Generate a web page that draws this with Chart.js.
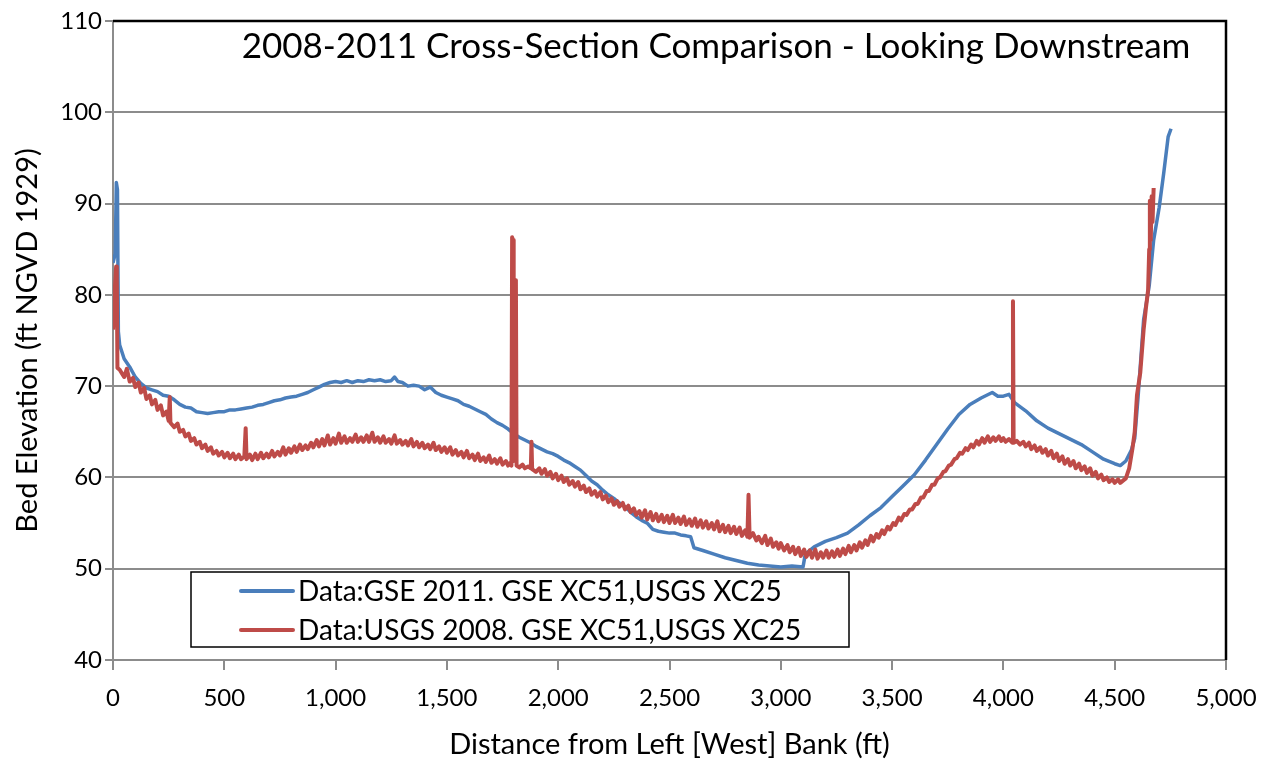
<!DOCTYPE html>
<html>
<head>
<meta charset="utf-8">
<script src="https://cdn.jsdelivr.net/npm/chart.js"></script>
<style>
  body { margin: 0; background: #fff; }
  canvas { display: block; }
</style>
</head>
<body>
<canvas id="xsChart" width="1273" height="765"></canvas>
<script>
// 2008-2011 cross-section comparison, bed elevation vs distance from left bank

const chartTitle = '2008-2011 Cross-Section Comparison - Looking Downstream';
const xTitle = 'Distance from Left [West] Bank (ft)';
const yTitle = 'Bed Elevation (ft NGVD 1929)';
const seriesLabels = ['Data:GSE 2011. GSE XC51,USGS XC25', 'Data:USGS 2008. GSE XC51,USGS XC25'];
const xTicks = [0, 500, 1000, 1500, 2000, 2500, 3000, 3500, 4000, 4500, 5000];
const yTicks = [40, 50, 60, 70, 80, 90, 100, 110];

// [distance ft, elevation ft]
const gse2011 = [
  [0, 83.5], [10, 84.5], [15, 92.3], [20, 91.5], [24, 76.0], [30, 74.5], [50, 73.0], [75, 72.1],
  [100, 71.0], [125, 70.3], [150, 69.8], [175, 69.6], [200, 69.4], [225, 69.0], [250, 68.9], [275, 68.5],
  [300, 68.0], [325, 67.7], [350, 67.6], [375, 67.2], [400, 67.1], [425, 67.0], [450, 67.1], [475, 67.2],
  [500, 67.2], [525, 67.4], [550, 67.4], [575, 67.5], [600, 67.6], [625, 67.7], [650, 67.9], [675, 68.0],
  [700, 68.2], [725, 68.4], [750, 68.5], [775, 68.7], [800, 68.8], [825, 68.9], [850, 69.1], [875, 69.3],
  [900, 69.6], [925, 69.9], [950, 70.2], [975, 70.4], [1000, 70.5], [1025, 70.4], [1050, 70.6], [1075, 70.4],
  [1100, 70.6], [1125, 70.5], [1150, 70.7], [1175, 70.6], [1200, 70.7], [1225, 70.5], [1250, 70.6], [1265, 71.0],
  [1280, 70.5], [1300, 70.4], [1325, 70.0], [1350, 70.1], [1375, 70.0], [1400, 69.6], [1425, 69.9], [1450, 69.3],
  [1475, 69.0], [1500, 68.8], [1525, 68.6], [1550, 68.4], [1575, 68.0], [1600, 67.8], [1625, 67.5], [1650, 67.2],
  [1675, 66.9], [1700, 66.4], [1725, 66.0], [1750, 65.7], [1775, 65.3], [1800, 64.8], [1825, 64.4], [1850, 64.1],
  [1875, 63.8], [1900, 63.4], [1925, 63.1], [1950, 62.8], [1975, 62.6], [2000, 62.3], [2025, 61.9], [2050, 61.6],
  [2075, 61.2], [2100, 60.8], [2125, 60.2], [2150, 59.6], [2175, 59.2], [2200, 58.6], [2225, 58.1], [2250, 57.7],
  [2275, 57.2], [2300, 56.8], [2325, 56.2], [2350, 55.7], [2375, 55.3], [2400, 55.0], [2425, 54.3], [2450, 54.1],
  [2475, 54.0], [2500, 53.9], [2525, 53.9], [2550, 53.7], [2575, 53.6], [2595, 53.5], [2610, 52.3], [2650, 52.0],
  [2700, 51.6], [2750, 51.2], [2800, 50.9], [2850, 50.6], [2900, 50.4], [2950, 50.3], [3000, 50.2], [3050, 50.3],
  [3100, 50.2], [3110, 51.6], [3150, 52.4], [3200, 53.0], [3250, 53.4], [3300, 53.9], [3350, 54.8], [3400, 55.8],
  [3450, 56.7], [3500, 57.9], [3550, 59.1], [3600, 60.3], [3650, 61.9], [3700, 63.6], [3750, 65.3], [3800, 66.9],
  [3850, 68.0], [3900, 68.7], [3925, 69.0], [3950, 69.3], [3975, 68.9], [4000, 68.9], [4025, 69.1], [4050, 68.2],
  [4100, 67.3], [4150, 66.2], [4200, 65.4], [4250, 64.8], [4300, 64.2], [4350, 63.6], [4400, 62.8], [4450, 62.0],
  [4500, 61.5], [4525, 61.3], [4550, 61.8], [4575, 63.0], [4590, 64.3], [4605, 68.8], [4630, 77.3], [4655, 81.0],
  [4675, 86.0], [4700, 89.6], [4720, 93.3], [4740, 97.3], [4753, 98.2]
];

const usgs2008 = [
  [0, 76.2], [8, 80.5], [14, 83.1], [17, 82.0], [20, 72.0], [30, 71.8], [50, 71.0], [62, 71.9],
  [75, 70.5], [90, 70.9], [100, 69.9], [115, 70.4], [125, 69.3], [140, 69.8], [150, 68.6], [165, 69.0],
  [175, 68.0], [190, 68.5], [200, 67.4], [215, 67.9], [225, 66.8], [240, 67.2], [250, 66.2], [255, 68.8],
  [258, 66.0], [275, 65.5], [290, 65.9], [300, 65.0], [315, 65.2], [325, 64.5], [340, 64.8], [350, 64.0],
  [365, 64.3], [375, 63.6], [390, 63.9], [400, 63.2], [415, 63.6], [425, 62.9], [440, 63.3], [450, 62.6],
  [465, 62.9], [475, 62.4], [490, 62.8], [500, 62.2], [515, 62.7], [525, 62.1], [540, 62.6], [550, 62.0],
  [565, 62.5], [575, 62.0], [590, 62.3], [596, 65.4], [600, 62.0], [615, 62.5], [625, 61.9], [640, 62.6],
  [650, 62.0], [665, 62.7], [675, 62.1], [690, 62.6], [700, 62.2], [715, 62.9], [725, 62.3], [740, 62.8],
  [750, 62.4], [765, 63.3], [775, 62.5], [790, 63.2], [800, 62.7], [815, 63.4], [825, 62.8], [840, 63.6],
  [850, 63.0], [865, 63.5], [875, 63.1], [890, 63.8], [900, 63.3], [915, 64.1], [925, 63.4], [940, 64.2],
  [950, 63.5], [965, 64.6], [975, 63.6], [990, 64.3], [1000, 63.7], [1015, 64.8], [1025, 63.8], [1040, 64.5],
  [1050, 63.8], [1065, 64.3], [1075, 63.9], [1090, 64.7], [1100, 63.9], [1115, 64.4], [1125, 63.9], [1140, 64.6],
  [1150, 63.9], [1165, 64.9], [1175, 63.9], [1190, 64.4], [1200, 63.8], [1215, 64.5], [1225, 63.8], [1240, 64.2],
  [1250, 63.7], [1265, 64.6], [1275, 63.7], [1290, 64.1], [1300, 63.6], [1315, 64.0], [1325, 63.5], [1340, 64.2],
  [1350, 63.4], [1365, 63.9], [1375, 63.3], [1390, 63.8], [1400, 63.2], [1415, 63.6], [1425, 63.1], [1440, 63.8],
  [1450, 63.0], [1465, 63.4], [1475, 62.8], [1490, 63.3], [1500, 62.7], [1515, 63.3], [1525, 62.5], [1540, 63.0],
  [1550, 62.4], [1565, 62.8], [1575, 62.2], [1590, 62.9], [1600, 62.1], [1615, 62.5], [1625, 61.9], [1640, 62.6],
  [1650, 61.8], [1665, 62.2], [1675, 61.7], [1690, 62.4], [1700, 61.6], [1715, 62.0], [1725, 61.5], [1740, 62.1],
  [1750, 61.4], [1765, 61.8], [1775, 61.3], [1785, 61.6], [1790, 61.3], [1793, 86.3], [1797, 86.0], [1800, 61.8],
  [1806, 81.6], [1810, 81.4], [1813, 61.3], [1825, 61.1], [1840, 61.4], [1850, 61.0], [1865, 61.2], [1877, 61.0],
  [1880, 63.9], [1883, 60.9], [1900, 60.6], [1915, 61.0], [1925, 60.4], [1940, 60.9], [1950, 60.2], [1965, 60.6],
  [1975, 59.9], [1990, 60.4], [2000, 59.7], [2015, 60.2], [2025, 59.5], [2040, 59.9], [2050, 59.2], [2065, 59.6],
  [2075, 59.0], [2090, 59.5], [2100, 58.7], [2115, 59.1], [2125, 58.4], [2140, 58.8], [2150, 58.1], [2165, 58.5],
  [2175, 57.9], [2190, 58.4], [2200, 57.6], [2215, 58.0], [2225, 57.3], [2240, 57.7], [2250, 57.0], [2265, 57.4],
  [2275, 56.8], [2290, 57.2], [2300, 56.5], [2315, 56.9], [2325, 56.2], [2340, 56.6], [2350, 55.9], [2365, 56.3],
  [2375, 55.6], [2390, 56.4], [2400, 55.4], [2415, 56.2], [2425, 55.3], [2440, 56.0], [2450, 55.2], [2465, 55.9],
  [2475, 55.1], [2490, 55.8], [2500, 55.0], [2515, 55.9], [2525, 55.0], [2540, 55.6], [2550, 54.9], [2565, 55.7],
  [2575, 54.8], [2590, 55.4], [2600, 54.7], [2615, 55.5], [2625, 54.6], [2640, 55.3], [2650, 54.5], [2665, 55.2],
  [2675, 54.4], [2690, 55.0], [2700, 54.3], [2715, 55.2], [2725, 54.1], [2740, 54.8], [2750, 54.0], [2765, 54.7],
  [2775, 53.9], [2790, 54.6], [2800, 53.8], [2815, 54.5], [2825, 53.6], [2840, 54.2], [2850, 53.5], [2855, 58.1],
  [2860, 53.4], [2875, 53.9], [2890, 53.1], [2900, 53.5], [2915, 52.8], [2930, 53.6], [2940, 52.6], [2955, 53.3],
  [2965, 52.4], [2980, 52.9], [2990, 52.2], [3000, 52.8], [3015, 52.0], [3030, 52.6], [3040, 51.8], [3055, 52.4],
  [3065, 51.6], [3080, 52.3], [3090, 51.4], [3105, 52.1], [3115, 51.3], [3130, 52.0], [3140, 51.2], [3155, 52.1],
  [3165, 51.1], [3180, 51.8], [3190, 51.2], [3205, 52.0], [3215, 51.2], [3230, 51.9], [3240, 51.3], [3255, 52.1],
  [3265, 51.4], [3280, 52.2], [3290, 51.6], [3305, 52.5], [3315, 51.8], [3330, 52.6], [3340, 52.0], [3355, 52.9],
  [3365, 52.3], [3380, 53.1], [3390, 52.6], [3405, 53.6], [3415, 53.0], [3430, 53.8], [3440, 53.4], [3455, 54.2],
  [3465, 53.8], [3480, 54.6], [3490, 54.3], [3505, 55.0], [3515, 54.8], [3530, 55.6], [3540, 55.3], [3555, 56.0],
  [3565, 55.9], [3580, 56.5], [3590, 56.5], [3605, 57.1], [3615, 57.1], [3630, 57.8], [3640, 57.8], [3655, 58.5],
  [3665, 58.5], [3680, 59.2], [3690, 59.2], [3705, 59.9], [3715, 60.0], [3730, 60.6], [3740, 60.7], [3755, 61.3],
  [3765, 61.4], [3780, 62.0], [3790, 62.1], [3805, 62.7], [3815, 62.6], [3830, 63.2], [3840, 63.0], [3855, 63.6],
  [3865, 63.3], [3880, 64.0], [3890, 63.6], [3905, 64.3], [3915, 63.8], [3930, 64.5], [3940, 63.9], [3955, 64.4],
  [3965, 64.0], [3980, 64.5], [3990, 64.0], [4000, 64.3], [4010, 63.9], [4025, 64.2], [4040, 63.8], [4043, 79.3],
  [4046, 63.8], [4060, 64.0], [4075, 63.6], [4090, 63.9], [4100, 63.4], [4115, 63.8], [4125, 63.1], [4140, 63.5],
  [4150, 62.9], [4165, 63.3], [4175, 62.7], [4190, 63.1], [4200, 62.4], [4215, 62.9], [4225, 62.1], [4240, 62.6],
  [4250, 61.8], [4265, 62.3], [4275, 61.5], [4290, 62.0], [4300, 61.3], [4315, 61.8], [4325, 61.0], [4340, 61.5],
  [4350, 60.8], [4365, 61.2], [4375, 60.5], [4390, 61.0], [4400, 60.2], [4415, 60.6], [4425, 59.9], [4440, 60.3],
  [4450, 59.7], [4465, 60.0], [4475, 59.5], [4490, 59.8], [4500, 59.4], [4515, 59.8], [4525, 59.4], [4540, 59.7],
  [4550, 59.9], [4565, 61.0], [4580, 63.2], [4590, 65.0], [4600, 69.0], [4615, 71.5], [4630, 76.2], [4640, 78.5],
  [4650, 80.5], [4655, 85.0], [4658, 90.3], [4662, 86.0], [4666, 90.8], [4670, 88.0], [4675, 91.7]
];

const blue = '#4a7ebb';
const red = '#be4b48';
const gridGray = '#8c8c8c';
const fontFamily = 'Lato, "Open Sans", sans-serif';

// title + legend box sit inside the plot area, drawn by hand
const extrasPlugin = {
  id: 'extras',
  afterDraw(chart) {
    const { ctx, chartArea: a } = chart;
    ctx.save();

    // black frame on top and right side of plot area
    ctx.strokeStyle = '#000';
    ctx.lineWidth = 2.5;
    ctx.beginPath();
    ctx.moveTo(a.left, a.top);
    ctx.lineTo(a.right, a.top);
    ctx.lineTo(a.right, a.bottom);
    ctx.stroke();

    ctx.fillStyle = '#000';
    ctx.font = '35px ' + fontFamily;
    ctx.textAlign = 'center';
    ctx.textBaseline = 'middle';
    ctx.fillText(chartTitle, 716, 47);

    // legend
    const box = { x: 191, y: 572, w: 658, h: 75 };
    ctx.fillStyle = '#fff';
    ctx.fillRect(box.x, box.y, box.w, box.h);
    ctx.strokeStyle = '#000';
    ctx.lineWidth = 1.5;
    ctx.strokeRect(box.x, box.y, box.w, box.h);
    ctx.font = '28px ' + fontFamily;
    ctx.textAlign = 'left';
    chart.data.datasets.forEach((ds, i) => {
      const yy = box.y + 19 + i * 39;
      ctx.strokeStyle = ds.borderColor;
      ctx.lineWidth = 4;
      ctx.lineCap = 'round';
      ctx.beginPath();
      ctx.moveTo(241, yy);
      ctx.lineTo(293, yy);
      ctx.stroke();
      ctx.fillStyle = '#000';
      ctx.fillText(ds.label, 298, yy + 1);
    });
    ctx.restore();
  }
};

new Chart(document.getElementById('xsChart').getContext('2d'), {
  type: 'line',
  data: {
    datasets: [
      {
        label: seriesLabels[0],
        data: gse2011.map(p => ({ x: p[0], y: p[1] })),
        borderColor: blue,
        borderWidth: 3.5,
        pointRadius: 0,
        tension: 0,
        borderJoinStyle: 'round',
        order: 2
      },
      {
        label: seriesLabels[1],
        data: usgs2008.map(p => ({ x: p[0], y: p[1] })),
        borderColor: red,
        borderWidth: 4,
        pointRadius: 0,
        tension: 0,
        borderJoinStyle: 'round',
        order: 1
      }
    ]
  },
  options: {
    responsive: false,
    animation: false,
    devicePixelRatio: 1,
    layout: { padding: { top: 21, right: 47, bottom: 0, left: 0 } },
    plugins: {
      legend: { display: false },
      tooltip: { enabled: false }
    },
    scales: {
      x: {
        type: 'linear',
        min: 0,
        max: 5000,
        afterFit: s => { s.height = 105; },
        afterBuildTicks: s => { s.ticks = xTicks.map(v => ({ value: v })); },
        ticks: {
          autoSkip: false,
          maxRotation: 0,
          padding: 14,
          color: '#000',
          font: { family: fontFamily, size: 24 },
          callback: v => v.toLocaleString('en-US')
        },
        grid: { drawOnChartArea: false, drawTicks: true, tickLength: 10, color: gridGray, lineWidth: 2 },
        border: { color: gridGray, width: 2 },
        title: {
          display: true,
          text: xTitle,
          color: '#000',
          font: { family: fontFamily, size: 29 },
          padding: { top: 0, bottom: 3 }
        }
      },
      y: {
        min: 40,
        max: 110,
        afterFit: s => { s.width = 113; },
        afterBuildTicks: s => { s.ticks = yTicks.map(v => ({ value: v })); },
        ticks: {
          autoSkip: false,
          padding: 3,
          color: '#000',
          font: { family: fontFamily, size: 24 }
        },
        grid: { color: gridGray, lineWidth: 2, tickLength: 8 },
        border: { color: gridGray, width: 2 },
        title: {
          display: true,
          text: yTitle,
          color: '#000',
          font: { family: fontFamily, size: 29 },
          padding: { top: 10, bottom: 0 }
        }
      }
    }
  },
  plugins: [extrasPlugin]
});
</script>
</body>
</html>
